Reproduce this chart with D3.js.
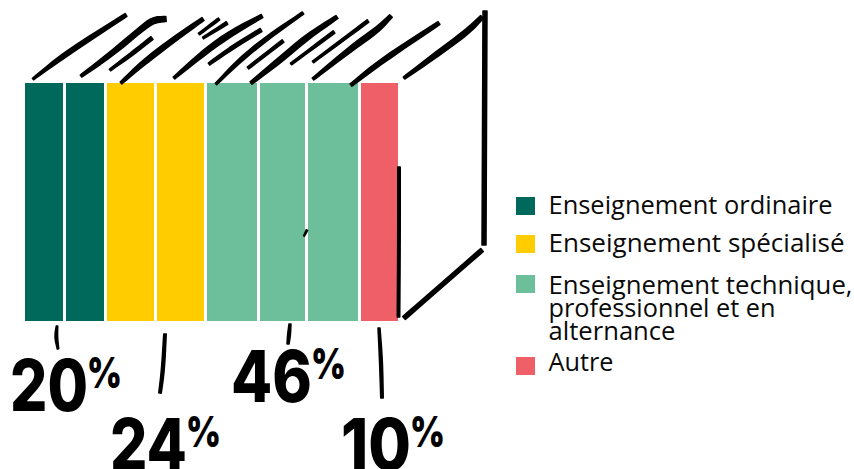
<!DOCTYPE html>
<html><head><meta charset="utf-8">
<script src="https://cdn.jsdelivr.net/npm/d3@7"></script>
<style>html,body{margin:0;padding:0;background:#fff}svg{display:block}</style>
</head><body><svg id="c" width="854" height="469"></svg>
<script>
const categories=["Enseignement ordinaire","Enseignement spécialisé","Enseignement technique, professionnel et en alternance","Autre"];
const shares=[20,24,46,10];
const bookCategory=[0,0,1,1,2,2,2,3];
const bookThickness=[41,41,50,50,53,48,53,37];
const colors=["#00695c","#ffcc00","#6dbf9c","#ef5f67"];
const legendLines=[["Enseignement ordinaire"],["Enseignement spécialisé"],["Enseignement technique,","professionnel et en","alternance"],["Autre"]];
const legendWidths=[[284],[296],[304,227,127],[65]];
const labelWidths=[78,77,81,70];
const sketchStrokes=[
[[33,79,2],[67,53,5],[126,15,3.5]],
[[81,76,2.5],[110,55,5],[140,30,5],[153,20,6],[166,19,5]],
[[110,70,2],[133,53,3.5],[152,38,3.5]],
[[121,83,2.5],[143,63,5],[173,40,5],[203,19,3.5]],
[[199,34,2],[219,19,2.5]],
[[203,38,2],[227,23,3]],
[[174,78,2.5],[207,50,5.5],[233,32,5.5],[262,16,3.5]],
[[209,64,2.5],[233,47,3.5],[261,30,3.5]],
[[216,84,2],[240,60,4],[267,38,4],[303,13,2.5]],
[[248,68,2.5],[283,41,3]],
[[251,83,3],[280,60,5.5],[307,37,5.5],[337,17,3.5]],
[[291,64,2],[334,32,3]],
[[313,62,2],[368,21,3]],
[[313,79,2.5],[353,47,5.5],[377,30,5.5],[391,16,3.5]],
[[351,85,3],[383,60,5],[439,23,3.5]],
[[404,78,2.5],[433,57,5],[467,32,5.5],[482,17,4]],
[[485,11,4],[484.5,130,4],[484,245,4]],
[[482,250,4],[443,284,4],[404,318,4]],
[[399,167,2.5],[399,240,2.5],[398.5,317,2.5]],
[[304,236,1],[307,230,1.5]],
[[57,326,1.5],[56,337,3],[58,349,1.5]],
[[165,334,2.5],[163,370,3],[160,393,2.5]],
[[290,324,2],[289,335,3],[288,344,2]],
[[379,328,2],[381,360,3],[382,398,2.5]]
];
const svg=d3.select("#c");
const total=d3.sum(bookThickness);
const x=d3.scaleLinear().domain([0,total]).range([25,398]);
const y=d3.scaleLinear().domain([0,1]).range([321,83]);
let acc=0;
const books=bookThickness.map((t,i)=>{const b={x0:acc,t,c:bookCategory[i]};acc+=t;return b;});
svg.selectAll("rect.book").data(books).join("rect").attr("class","book")
 .attr("x",d=>x(d.x0)).attr("y",y(1))
 .attr("width",(d,i)=>x(d.x0+d.t)-x(d.x0)-(i<books.length-1?3:0))
 .attr("height",y(0)-y(1)).attr("fill",d=>colors[d.c]);
function smooth(pts){
 let p=pts;
 for(let k=0;k<2;k++){
  const o=[p[0]];
  for(let i=0;i<p.length-1;i++){
   const a=p[i],b=p[i+1];
   o.push(a.map((v,j)=>v*.75+b[j]*.25));
   o.push(a.map((v,j)=>v*.25+b[j]*.75));
  }
  o.push(p[p.length-1]);p=o;
 }
 return p;
}
function outline(raw){
 const pts=smooth(raw),L=[],R=[];
 pts.forEach((p,i)=>{
  const a=pts[Math.max(i-1,0)],b=pts[Math.min(i+1,pts.length-1)];
  const dx=b[0]-a[0],dy=b[1]-a[1],n=Math.hypot(dx,dy)||1;
  const nx=-dy/n*p[2]/2,ny=dx/n*p[2]/2;
  L.push([p[0]+nx,p[1]+ny]);R.unshift([p[0]-nx,p[1]-ny]);
 });
 return d3.line()(L.concat(R))+"Z";
}
svg.selectAll("path.sk").data(sketchStrokes).join("path").attr("class","sk").attr("d",outline)
 .attr("fill","#000").attr("stroke","#000").attr("stroke-width",1.5).attr("stroke-linejoin","round");
const labelAnchor=[[10,411],[110,470],[231,402],[341,470]];
const bigFont="Inter, sans-serif";
shares.forEach((s,i)=>{
 const [lx,ly]=labelAnchor[i];
 const g=svg.append("g").attr("transform",`translate(${lx},${ly})`);
 const w=labelWidths[i];
 g.append("text").attr("font-family",bigFont).attr("font-weight",800).attr("font-size",71).attr("textLength",w).attr("lengthAdjust","spacingAndGlyphs")
  .attr("fill","#000").text(s);
 g.append("text").attr("x",w-1).attr("y",-23).attr("font-family",bigFont).attr("font-weight",900).attr("font-size",43).attr("textLength",35).attr("lengthAdjust","spacingAndGlyphs")
  .attr("fill","#000").text("%");
});
const swatchY=[197,235,275,357];
const baselines=[[214],[252],[294,317,340],[371]];
const lg=svg.append("g");
categories.forEach((c,i)=>{
 lg.append("rect").attr("x",516).attr("y",swatchY[i]).attr("width",19).attr("height",18).attr("fill",colors[i]);
 legendLines[i].forEach((l,j)=>{
  lg.append("text").attr("x",548.5).attr("y",baselines[i][j]).attr("font-family","'Open Sans',sans-serif").attr("font-size",25)
   .attr("textLength",legendWidths[i][j]).attr("lengthAdjust","spacingAndGlyphs").attr("fill","#0a0a0a").text(l);
 });
});
</script></body></html>
